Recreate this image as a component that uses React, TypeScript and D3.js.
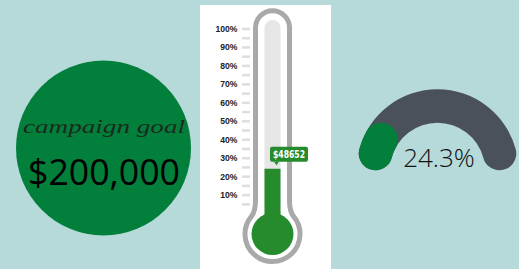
import React from 'react';
import * as d3 from 'd3';

const W = 519;
const H = 269;

// values
const goalLabel = 'campaign goal';
const goalAmount = '$200,000';
const raised = 48652;
const raisedPct = 24.3;
const pctTicks = [5, 10, 15, 20, 25, 30, 35, 40, 45, 50, 55, 60, 65, 70, 75, 80, 85, 90, 95, 100];
const pctLabels = [10, 20, 30, 40, 50, 60, 70, 80, 90, 100];

const BG = '#b6d9da';
const CIRCLE_GREEN = '#027f3a';
const THERMO_GREEN = '#268b2d';
const GAUGE_GRAY = '#4a515a';

// thermometer geometry
const tcx = 272.5;
const bulbY = 234;
const tubeW = 17; // half width of the gray outline centreline
const tubeTop = 27.8;
const bulbR = 27.5;

const thermoY = d3.scaleLinear().domain([0, 100]).range([213.6, 29]);

function thermoOutline() {
  const p = d3.path();
  const a = (50 * Math.PI) / 180;
  const jx = bulbR * Math.sin(a);
  const jy = bulbY - bulbR * Math.cos(a);
  p.moveTo(tcx - tubeW, tubeTop);
  p.arc(tcx, tubeTop, tubeW, Math.PI, 0);
  p.lineTo(tcx + tubeW, jy - 16);
  p.bezierCurveTo(tcx + tubeW, jy - 8, tcx + jx - 0.64 * 4, jy - 0.77 * 4, tcx + jx, jy);
  p.arc(tcx, bulbY, bulbR, -Math.PI / 2 + a, (3 * Math.PI) / 2 - a);
  p.bezierCurveTo(tcx - jx + 0.64 * 4, jy - 0.77 * 4, tcx - tubeW, jy - 8, tcx - tubeW, jy - 16);
  p.closePath();
  return p.toString();
}

function column(top: number, half: number) {
  const p = d3.path();
  p.moveTo(tcx - half, bulbY);
  p.lineTo(tcx - half, top + half);
  p.arc(tcx, top + half, half, Math.PI, 0);
  p.lineTo(tcx + half, bulbY);
  p.closePath();
  return p.toString();
}

// gauge geometry
const gcx = 437.5;
const gcy = 170.3;
const gauge = d3.scaleLinear().domain([0, 100]).range([-Math.PI / 2, Math.PI / 2]);
const gaugeArc = d3.arc<{ s: number; e: number }>()
  .innerRadius(47.5)
  .outerRadius(81)
  .cornerRadius(16.75)
  .startAngle(d => gauge(d.s))
  .endAngle(d => gauge(d.e));

const App: React.FC = () => {
  const valueY = thermoY(raisedPct);
  const boxW = 38;
  const boxH = 15;
  const boxX = 270;
  const boxY = valueY - 22;

  return (
    <svg width={W} height={H} style={{ position: 'absolute', left: 0, top: 0 }}>
      <rect width={W} height={H} fill={BG} />

      {/* goal circle */}
      <circle cx={103.5} cy={148} r={87.5} fill={CIRCLE_GREEN} />
      <text x={104} y={133} textAnchor="middle" fontFamily="'Liberation Serif', serif" fontStyle="italic"
        fontSize={19} fill="#1a2a20" textLength={162} lengthAdjust="spacingAndGlyphs">{goalLabel}</text>
      <text x={104} y={185} textAnchor="middle" fontFamily="'Open Sans', sans-serif" fontSize={37}
        fill="#000" textLength={152} lengthAdjust="spacingAndGlyphs">{goalAmount}</text>

      {/* thermometer */}
      <rect x={200} y={5} width={131} height={H - 5} fill="#fff" />
      <path d={thermoOutline()} fill="#fff" stroke="#a9a9a9" strokeWidth={5} />
      <path d={column(20, 8)} fill="#e6e6e6" />
      <rect x={tcx - 8} y={valueY} width={16} height={bulbY - valueY} fill={THERMO_GREEN} />
      <circle cx={tcx} cy={bulbY} r={21} fill={THERMO_GREEN} />
      {pctTicks.map(t => (
        <line key={t} x1={242} x2={250} y1={thermoY(t)} y2={thermoY(t)} stroke="#dedede" strokeWidth={2.5} />
      ))}
      {pctLabels.map(t => (
        <text key={t} x={237.5} y={thermoY(t) + 3} textAnchor="end" fontFamily="'Liberation Sans', Arial, sans-serif"
          fontWeight="bold" fontSize={8.6} fill="#222">{`${t}%`}</text>
      ))}
      <rect x={boxX} y={boxY} width={boxW} height={boxH} rx={2} fill={THERMO_GREEN} />
      <path d={`M${boxX + 4},${boxY + boxH} L${boxX + 6.5},${boxY + boxH + 3.5} L${boxX + 9},${boxY + boxH} Z`} fill={THERMO_GREEN} />
      <text x={boxX + boxW / 2} y={boxY + 11.2} textAnchor="middle" fontFamily="'DejaVu Sans', sans-serif"
        fontWeight="bold" fontSize={10} fill="#fff" textLength={32} lengthAdjust="spacingAndGlyphs">{`$${raised}`}</text>

      {/* gauge */}
      <g transform={`translate(${gcx},${gcy})`}>
        <path d={gaugeArc({ s: 0, e: 100 }) ?? ''} fill={GAUGE_GRAY} />
        <path d={gaugeArc({ s: 0, e: raisedPct }) ?? ''} fill={CIRCLE_GREEN} />
      </g>
      <text x={439} y={167} textAnchor="middle" fontFamily="'Open Sans', sans-serif" fontWeight={300}
        fontSize={26} fill="#111">{`${raisedPct}%`}</text>
    </svg>
  );
};

export default App;
